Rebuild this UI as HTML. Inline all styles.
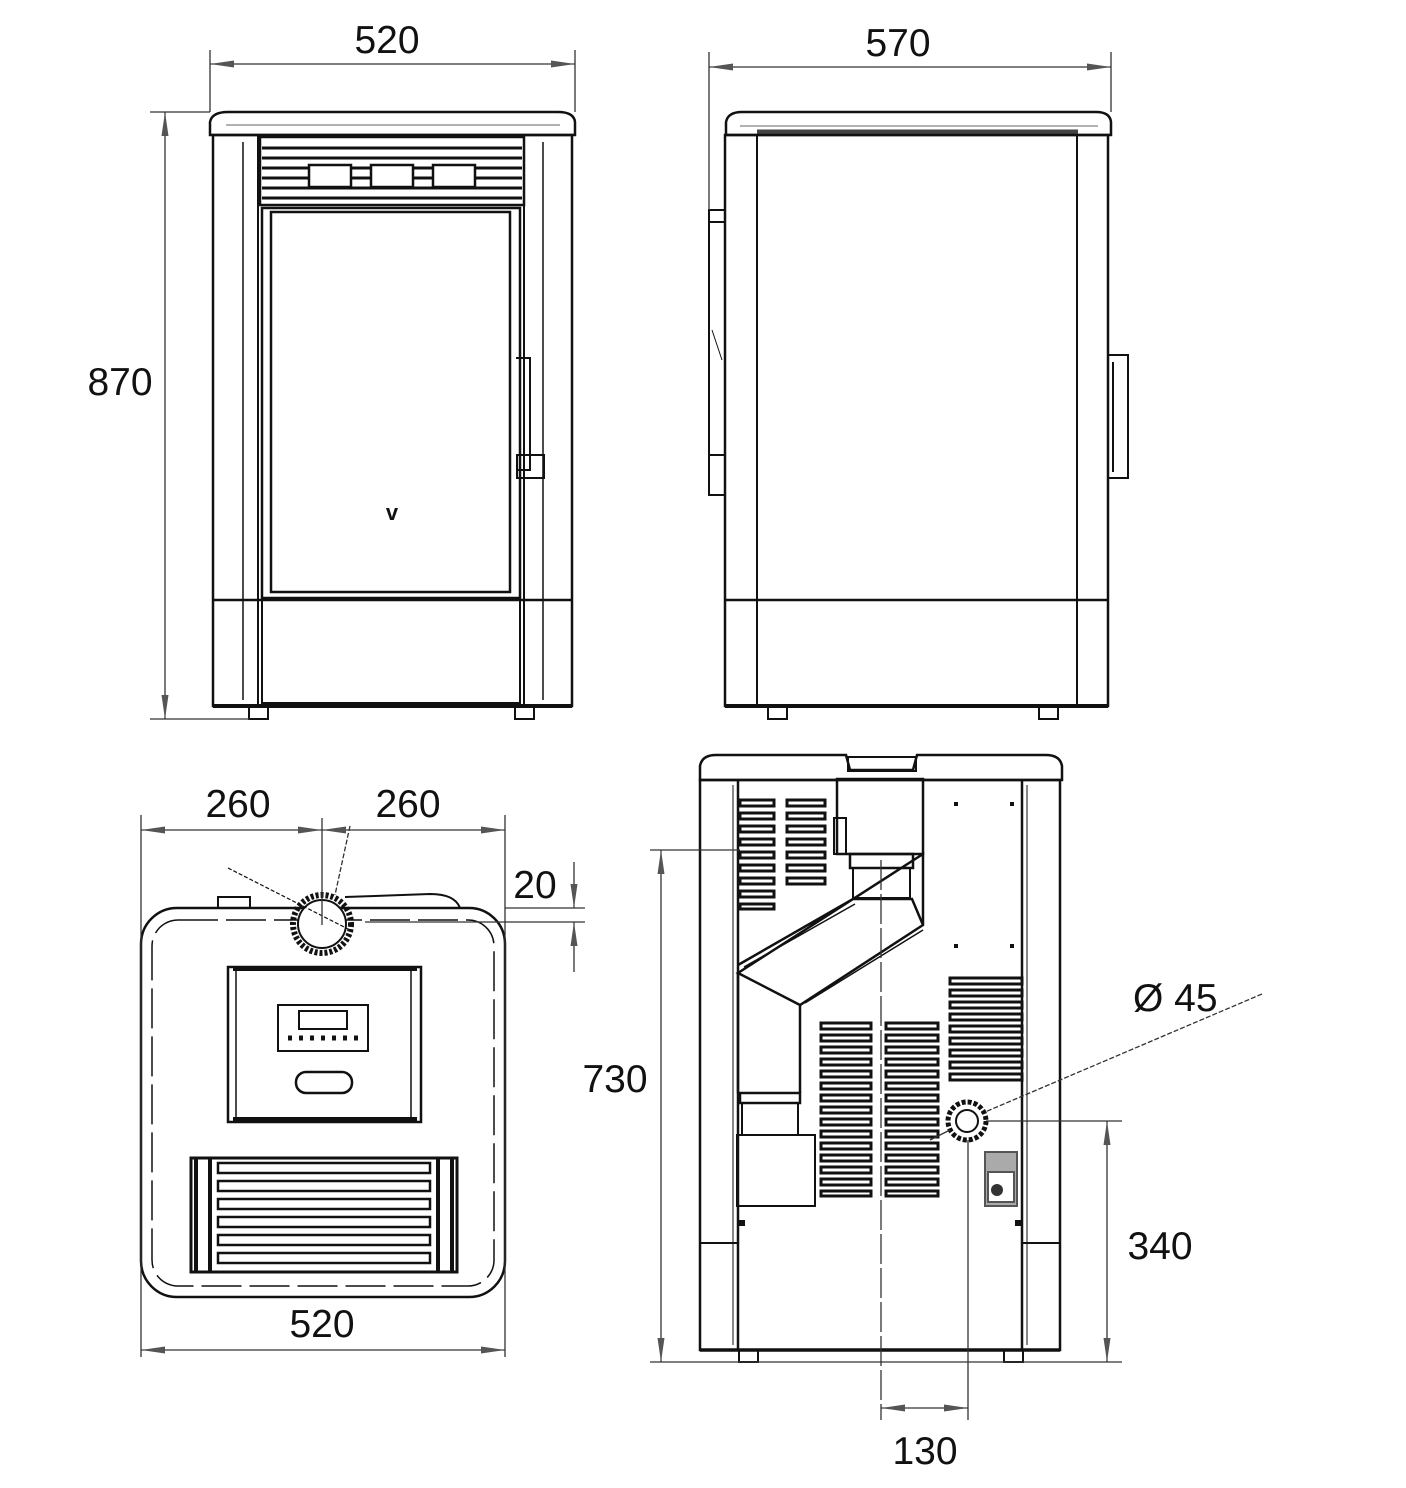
<!DOCTYPE html>
<html><head><meta charset="utf-8"><style>
html,body{margin:0;padding:0;background:#fff}
svg{display:block}
text{font-family:"Liberation Sans",sans-serif;font-size:39px;fill:#111}
</style></head><body>
<svg width="1406" height="1488" viewBox="0 0 1406 1488" xmlns="http://www.w3.org/2000/svg">
<defs>
<marker id="a" viewBox="0 0 24 8" refX="24" refY="4" markerWidth="24" markerHeight="8" markerUnits="userSpaceOnUse" orient="auto-start-reverse">
<path d="M24,4 L0,0.5 L0,7.5 Z" fill="#555"/></marker>
</defs>
<g fill="none" stroke="#111" stroke-width="2">

<!-- ========== FRONT VIEW ========== -->
<path d="M210,135 L210,122 Q212,112 228,112 L558,112 Q574,112 575,122 L575,135 Z" stroke-width="2.5"/>
<line x1="226" y1="125" x2="560" y2="125" stroke-width="1" stroke="#666"/>
<rect x="213" y="135" width="359" height="571" stroke-width="2.5"/>
<line x1="258" y1="135" x2="258" y2="706"/>
<line x1="524" y1="135" x2="524" y2="706"/>
<line x1="243" y1="142" x2="243" y2="700" stroke-width="1.5"/>
<line x1="543" y1="142" x2="543" y2="700" stroke-width="1.5"/>
<line x1="213" y1="600" x2="572" y2="600" stroke-width="2.5"/>
<rect x="262" y="600" width="258" height="103"/>
<line x1="213" y1="706" x2="572" y2="706" stroke-width="4"/>
<rect x="249" y="706" width="19" height="13"/>
<rect x="515" y="706" width="19" height="13"/>
<rect x="260" y="137" width="264" height="68" stroke-width="2.5"/>
<g stroke-width="3">
<line x1="262" y1="148" x2="522" y2="148"/>
<line x1="262" y1="158" x2="522" y2="158"/>
<line x1="262" y1="168" x2="522" y2="168"/>
<line x1="262" y1="178" x2="522" y2="178"/>
<line x1="262" y1="188" x2="522" y2="188"/>
<line x1="262" y1="198" x2="522" y2="198"/>
</g>
<g fill="#fff" stroke-width="2.5">
<rect x="309" y="165" width="42" height="22"/>
<rect x="371" y="165" width="42" height="22"/>
<rect x="433" y="165" width="42" height="22"/>
</g>
<rect x="262" y="208" width="258" height="390" stroke-width="2.5"/>
<rect x="271" y="212" width="239" height="380" stroke-width="2.5"/>
<path d="M516,358 L530,358 L530,470 L516,470" stroke-width="2"/>
<rect x="517" y="455" width="27" height="23" stroke-width="2"/>
<text x="392" y="520" text-anchor="middle" style="font-size:22px;font-weight:bold;stroke:none">v</text>

<!-- ========== SIDE VIEW ========== -->
<path d="M726,135 L726,122 Q728,112 742,112 L1096,112 Q1110,112 1111,122 L1111,135 Z" stroke-width="2.5"/>
<line x1="740" y1="126" x2="1098" y2="126" stroke-width="1" stroke="#666"/>
<line x1="757" y1="132" x2="1078" y2="132" stroke-width="5" stroke="#444"/>
<rect x="725" y="135" width="383" height="571" stroke-width="2.5"/>
<line x1="757" y1="135" x2="757" y2="706"/>
<line x1="1077" y1="135" x2="1077" y2="706"/>
<line x1="725" y1="600" x2="1108" y2="600" stroke-width="2.5"/>
<line x1="725" y1="706" x2="1108" y2="706" stroke-width="4"/>
<rect x="768" y="706" width="19" height="13"/>
<rect x="1039" y="706" width="19" height="13"/>
<rect x="709" y="210" width="16" height="285"/>
<line x1="709" y1="222" x2="725" y2="222"/>
<line x1="709" y1="455" x2="725" y2="455"/>
<line x1="712" y1="330" x2="722" y2="360" stroke-width="1"/>
<rect x="1108" y="355" width="20" height="123"/>
<line x1="1113" y1="362" x2="1113" y2="472"/>

<!-- ========== TOP VIEW ========== -->
<rect x="141" y="908" width="364" height="389" rx="36" stroke-width="2.5"/>
<rect x="152" y="920" width="342" height="366" rx="26" stroke-width="1.5" stroke-dasharray="40 8"/>
<rect x="218" y="897" width="32" height="11"/>
<path d="M345,897 L430,894 Q455,894 460,908" />
<circle cx="322" cy="924" r="29" stroke-width="6" stroke-dasharray="3 2"/>
<circle cx="322" cy="924" r="24" fill="#fff"/>
<line x1="228" y1="868" x2="350" y2="930" stroke-width="1.2" stroke-dasharray="4 2"/>
<rect x="228" y="967" width="193" height="155" stroke-width="2.5"/>
<line x1="233" y1="969" x2="417" y2="969" stroke-width="4"/>
<line x1="233" y1="1119" x2="417" y2="1119" stroke-width="4"/>
<rect x="236" y="970" width="175" height="148" stroke-width="1.5"/>
<rect x="278" y="1005" width="90" height="46" stroke-width="2"/>
<rect x="299" y="1011" width="48" height="18" stroke-width="2"/>
<line x1="288" y1="1038" x2="360" y2="1038" stroke-width="5" stroke-dasharray="4 7"/>
<rect x="296" y="1072" width="56" height="21" rx="10" stroke-width="2.5"/>
<rect x="191" y="1158" width="266" height="114" stroke-width="3"/>
<g stroke-width="2.5">
<rect x="218" y="1163" width="212" height="10"/>
<rect x="218" y="1181" width="212" height="10"/>
<rect x="218" y="1199" width="212" height="10"/>
<rect x="218" y="1217" width="212" height="10"/>
<rect x="218" y="1235" width="212" height="10"/>
<rect x="218" y="1253" width="212" height="10"/>
</g>
<g stroke-width="4">
<line x1="196" y1="1158" x2="196" y2="1272"/><line x1="210" y1="1158" x2="210" y2="1272"/>
<line x1="438" y1="1158" x2="438" y2="1272"/><line x1="452" y1="1158" x2="452" y2="1272"/>
</g>

<!-- ========== BACK VIEW ========== -->
<path d="M700,780 L700,766 Q702,755 716,755 L846,755 L850,770 L913,770 L917,755 L1046,755 Q1060,755 1062,766 L1062,780 Z" stroke-width="2.5"/>
<rect x="848" y="757" width="68" height="14"/>
<rect x="700" y="780" width="360" height="570" stroke-width="2.5"/>
<line x1="738" y1="780" x2="738" y2="1350" stroke-width="2.5"/>
<line x1="1022" y1="780" x2="1022" y2="1350" stroke-width="2.5"/>
<line x1="733" y1="785" x2="733" y2="1345" stroke-width="1"/>
<line x1="1027" y1="785" x2="1027" y2="1345" stroke-width="1"/>
<line x1="700" y1="1243" x2="738" y2="1243"/>
<line x1="1022" y1="1243" x2="1060" y2="1243"/>
<line x1="700" y1="1350" x2="1060" y2="1350" stroke-width="3.5"/>
<rect x="739" y="1350" width="19" height="12"/>
<rect x="1004" y="1350" width="19" height="12"/>
<rect x="837" y="779" width="86" height="75" stroke-width="2.5"/>
<rect x="834" y="818" width="12" height="36"/>
<rect x="850" y="854" width="63" height="14" stroke-width="2.5"/>
<rect x="853" y="868" width="57" height="30"/>
<path d="M738,965 L853,899 L912,899 L923,925 M923,854 L923,925 L800,1005 L738,973 Z" stroke-width="2.5"/>
<line x1="744" y1="967" x2="855" y2="904" stroke-width="1.5"/>
<line x1="805" y1="1003" x2="923" y2="930" stroke-width="1.5"/>
<path d="M738,973 L738,1093 M800,1005 L800,1093" stroke-width="2.5"/>
<rect x="740" y="1093" width="60" height="10" stroke-width="2.5"/>
<rect x="742" y="1103" width="56" height="32"/>
<rect x="737" y="1135" width="78" height="71" stroke-width="2"/>
<g fill="#fff" stroke-width="3">
<rect x="740" y="800" width="34" height="6"/><rect x="740" y="813" width="34" height="6"/><rect x="740" y="826" width="34" height="6"/><rect x="740" y="839" width="34" height="6"/><rect x="740" y="852" width="34" height="6"/><rect x="740" y="865" width="34" height="6"/><rect x="740" y="878" width="34" height="6"/><rect x="740" y="891" width="34" height="6"/><rect x="740" y="904" width="34" height="5"/>
<rect x="787" y="800" width="38" height="6"/><rect x="787" y="813" width="38" height="6"/><rect x="787" y="826" width="38" height="6"/><rect x="787" y="839" width="38" height="6"/><rect x="787" y="852" width="38" height="6"/><rect x="787" y="865" width="38" height="6"/><rect x="787" y="878" width="38" height="6"/>
<rect x="821" y="1023" width="50" height="6"/><rect x="821" y="1035" width="50" height="6"/><rect x="821" y="1047" width="50" height="6"/><rect x="821" y="1059" width="50" height="6"/><rect x="821" y="1071" width="50" height="6"/><rect x="821" y="1083" width="50" height="6"/><rect x="821" y="1095" width="50" height="6"/><rect x="821" y="1107" width="50" height="6"/><rect x="821" y="1119" width="50" height="6"/><rect x="821" y="1131" width="50" height="6"/><rect x="821" y="1143" width="50" height="6"/><rect x="821" y="1155" width="50" height="6"/><rect x="821" y="1167" width="50" height="6"/><rect x="821" y="1179" width="50" height="6"/><rect x="821" y="1191" width="50" height="5"/>
<rect x="886" y="1023" width="52" height="6"/><rect x="886" y="1035" width="52" height="6"/><rect x="886" y="1047" width="52" height="6"/><rect x="886" y="1059" width="52" height="6"/><rect x="886" y="1071" width="52" height="6"/><rect x="886" y="1083" width="52" height="6"/><rect x="886" y="1095" width="52" height="6"/><rect x="886" y="1107" width="52" height="6"/><rect x="886" y="1119" width="52" height="6"/><rect x="886" y="1131" width="52" height="6"/><rect x="886" y="1143" width="52" height="6"/><rect x="886" y="1155" width="52" height="6"/><rect x="886" y="1167" width="52" height="6"/><rect x="886" y="1179" width="52" height="6"/><rect x="886" y="1191" width="52" height="5"/>
<rect x="950" y="978" width="72" height="6"/><rect x="950" y="990" width="72" height="6"/><rect x="950" y="1002" width="72" height="6"/><rect x="950" y="1014" width="72" height="6"/><rect x="950" y="1026" width="72" height="6"/><rect x="950" y="1038" width="72" height="6"/><rect x="950" y="1050" width="72" height="6"/><rect x="950" y="1062" width="72" height="6"/><rect x="950" y="1074" width="72" height="6"/>
</g>
<g fill="#111" stroke="none">
<rect x="954" y="802" width="4" height="4"/><rect x="1010" y="802" width="4" height="4"/>
<rect x="954" y="944" width="4" height="4"/><rect x="1010" y="944" width="4" height="4"/>
<rect x="739" y="1220" width="6" height="6"/><rect x="1015" y="1220" width="6" height="6"/>
</g>
<rect x="985" y="1152" width="32" height="54" fill="#aaa" stroke="#555"/>
<rect x="988" y="1172" width="26" height="30" fill="#fff" stroke="#555"/>
<circle cx="997" cy="1190" r="6" fill="#333" stroke="none"/>
<circle cx="967" cy="1121" r="19" stroke-width="5" stroke-dasharray="4 2"/>
<circle cx="967" cy="1121" r="11" stroke-width="2"/>

<!-- ========== DIMENSIONS ========== -->
<g stroke-width="1.3" stroke="#333">
<line x1="210" y1="50" x2="210" y2="112"/><line x1="575" y1="50" x2="575" y2="112"/>
<line x1="210" y1="64" x2="575" y2="64" marker-start="url(#a)" marker-end="url(#a)"/>
<line x1="150" y1="112" x2="210" y2="112"/><line x1="150" y1="719" x2="250" y2="719"/>
<line x1="165" y1="112" x2="165" y2="719" marker-start="url(#a)" marker-end="url(#a)"/>
<line x1="709" y1="52" x2="709" y2="210"/><line x1="1111" y1="52" x2="1111" y2="112"/>
<line x1="709" y1="67" x2="1111" y2="67" marker-start="url(#a)" marker-end="url(#a)"/>
<line x1="141" y1="815" x2="141" y2="1357"/><line x1="505" y1="815" x2="505" y2="1357"/>
<line x1="322" y1="818" x2="322" y2="925"/>
<line x1="141" y1="830" x2="322" y2="830" marker-start="url(#a)" marker-end="url(#a)"/>
<line x1="322" y1="830" x2="505" y2="830" marker-start="url(#a)" marker-end="url(#a)"/>
<line x1="350" y1="826" x2="335" y2="895" stroke-dasharray="5 2"/>
<line x1="505" y1="908" x2="585" y2="908"/><line x1="365" y1="922" x2="585" y2="922"/>
<line x1="574" y1="862" x2="574" y2="908" marker-end="url(#a)"/>
<line x1="574" y1="972" x2="574" y2="922" marker-end="url(#a)"/>
<line x1="141" y1="1350" x2="505" y2="1350" marker-start="url(#a)" marker-end="url(#a)"/>
<line x1="650" y1="850" x2="740" y2="850"/><line x1="650" y1="1362" x2="1122" y2="1362"/>
<line x1="661" y1="850" x2="661" y2="1362" marker-start="url(#a)" marker-end="url(#a)"/>
<line x1="986" y1="1121" x2="1122" y2="1121"/>
<line x1="1107" y1="1121" x2="1107" y2="1362" marker-start="url(#a)" marker-end="url(#a)"/>
<line x1="881" y1="860" x2="881" y2="1420" stroke-dasharray="30 4"/>
<line x1="968" y1="1140" x2="968" y2="1420"/>
<line x1="881" y1="1408" x2="968" y2="1408" marker-start="url(#a)" marker-end="url(#a)"/>
<line x1="1262" y1="994" x2="985" y2="1112" stroke-dasharray="5 2"/>
<line x1="950" y1="1130" x2="930" y2="1140"/>
</g>
</g>

<g>
<text x="387" y="53" text-anchor="middle">520</text>
<text x="120" y="395" text-anchor="middle">870</text>
<text x="898" y="56" text-anchor="middle">570</text>
<text x="238" y="817" text-anchor="middle">260</text>
<text x="408" y="817" text-anchor="middle">260</text>
<text x="535" y="898" text-anchor="middle">20</text>
<text x="322" y="1337" text-anchor="middle">520</text>
<text x="615" y="1092" text-anchor="middle">730</text>
<text x="1160" y="1259" text-anchor="middle">340</text>
<text x="925" y="1464" text-anchor="middle">130</text>
<text x="1133" y="1011">Ø 45</text>
</g>
</svg>
</body></html>
